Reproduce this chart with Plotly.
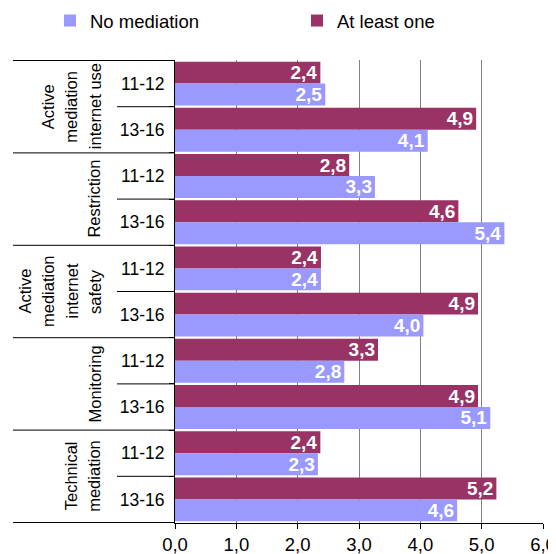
import plotly.graph_objects as go

groups = ["Active<br>mediation<br>internet use", "Restriction",
          "Active<br>mediation<br>internet<br>safety", "Monitoring",
          "Technical<br>mediation"]
ages = ["11-12", "13-16"]
at_least_one = [2.37, 4.91, 2.84, 4.62, 2.38, 4.94, 3.31, 4.94, 2.37, 5.24]
no_mediation = [2.45, 4.12, 3.26, 5.37, 2.38, 4.05, 2.76, 5.14, 2.33, 4.60]
x_ticks = [0, 1, 2, 3, 4, 5, 6]

cats = [f"g{gi}|{a}" for gi in range(len(groups)) for a in ages]
cat_text = [a for _ in groups for a in ages]

FONT = "Liberation Sans, Arial, sans-serif"
MAROON = "#993366"
BLUE = "#9999FF"

fig = go.Figure()
fig.add_trace(go.Bar(
    y=cats, x=at_least_one, orientation="h", name="At least one",
    marker=dict(color=MAROON, line=dict(width=0)), legendrank=2,
    texttemplate="%{x:.1f}", textposition="inside", insidetextanchor="end",
    constraintext="none",
    textfont=dict(color="white", size=19, family=FONT, weight="bold"),
))
fig.add_trace(go.Bar(
    y=cats, x=no_mediation, orientation="h", name="No mediation",
    marker=dict(color=BLUE, line=dict(width=0)), legendrank=1,
    texttemplate="%{x:.1f}", textposition="inside", insidetextanchor="end",
    constraintext="none",
    textfont=dict(color="white", size=19, family=FONT, weight="bold"),
))

# page has an 8px body margin; the figure is sized to fit the window
OFF = 8
W, H = 556 - OFF, 554 - OFF
L, R, T, B = 175 - OFF, 13, 60 - OFF, 31
pw = W - L - R
ph = H - T - B

def px2paper(px):
    return (px - OFF - L) / pw

def py2paper(py):
    return (H - B - (py - OFF)) / ph

shapes = []
for gi in range(len(groups) + 1):
    yb = gi * 2 - 0.5
    shapes.append(dict(type="line", xref="paper", yref="y", x0=px2paper(13), x1=0,
                       y0=yb, y1=yb, line=dict(color="black", width=1)))
for gi in range(len(groups)):
    yb = gi * 2 + 0.5
    shapes.append(dict(type="line", xref="paper", yref="y", x0=px2paper(117), x1=0,
                       y0=yb, y1=yb, line=dict(color="black", width=1)))

annotations = []
for gi, g in enumerate(groups):
    lines = g.split("<br>")
    n = len(lines)
    for li, line in enumerate(lines):
        cx = 94.5 - (n - 1 - li) * 23.5
        annotations.append(dict(
            xref="paper", yref="y", x=px2paper(cx), y=gi * 2 + 0.5,
            xanchor="center", yanchor="middle", text=line, textangle=-90,
            showarrow=False, font=dict(size=16.5, family=FONT, color="black"),
        ))

fig.update_layout(
    width=W, height=H,
    margin=dict(l=L, r=R, t=T, b=B, autoexpand=False),
    paper_bgcolor="white", plot_bgcolor="white",
    barmode="group", bargap=0.05, bargroupgap=0,
    separators=",.",
    font=dict(family=FONT, color="black"),
    showlegend=True,
    legend=dict(orientation="h", x=px2paper(50), xanchor="left",
                y=py2paper(21), yanchor="middle",
                font=dict(size=18.5, family=FONT, color="black"),
                entrywidth=202, entrywidthmode="pixels",
                bgcolor="rgba(0,0,0,0)", itemclick=False),
    shapes=shapes,
    annotations=annotations,
    xaxis=dict(range=[0, 6], tickvals=x_ticks, tickformat=".1f",
               showgrid=True, gridcolor="#808080", gridwidth=1,
               showline=True, linecolor="black", linewidth=1,
               ticks="outside", ticklen=5, tickcolor="black",
               tickfont=dict(size=18.5, family=FONT, color="black"),
               zeroline=False, fixedrange=True, automargin=False),
    yaxis=dict(type="category", categoryorder="array", categoryarray=cats,
               autorange="reversed", tickvals=cats, ticktext=cat_text,
               showline=True, linecolor="black", linewidth=1,
               ticks="outside", tickson="boundaries", ticklen=5, tickcolor="black",
               ticklabelstandoff=6,
               tickfont=dict(size=17.5, family=FONT, color="black"),
               showgrid=False, fixedrange=True, automargin=False),
)

fig.write_html("out.html")
